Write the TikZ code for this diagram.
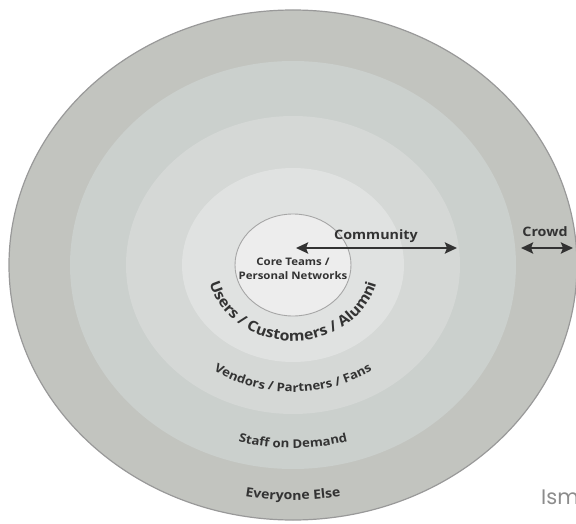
\documentclass[tikz,border=0pt]{standalone}
\usepackage{fontspec}
\setmainfont{Open Sans}
\newfontfamily\LabelFont[FakeStretch=1.1]{Open Sans}
\newfontfamily\MarkFont{Poppins}
\usepackage{tikz}
\usetikzlibrary{arrows.meta,decorations.text}
\definecolor{RingOuter}{HTML}{C2C4BF}
\definecolor{RingStaff}{HTML}{CBD0CD}
\definecolor{RingVendor}{HTML}{D5D8D6}
\definecolor{RingUser}{HTML}{E0E2E1}
\definecolor{RingCore}{HTML}{EDEDED}
\definecolor{LabelGray}{HTML}{333333}
\newcommand{\MinorColor}{LabelGray}

\begin{document}
\begin{tikzpicture}[x=1pt,y=-1pt,line cap=round,line join=round,
  lbl/.style={font=\LabelFont\bfseries\fontsize{13}{15}\selectfont,text=\MinorColor,inner sep=0pt},
  biarrow/.style={{Stealth[length=12pt,width=11pt,inset=2pt]}-{Stealth[length=12pt,width=11pt,inset=2pt]},line width=2.4pt,color=\MinorColor}]
  \useasboundingbox (0,0) rectangle (576,524);
  \coordinate (c) at (293,265);
  % rings, outside in
  \fill[RingOuter,draw=black!40,line width=1.2pt] (c) ellipse [x radius=284,y radius=255];
  \foreach \rx/\ry/\col in {223/204/RingStaff,167/149/RingVendor,111/97/RingUser}
  \fill[\col] (c) ellipse [x radius=\rx,y radius=\ry];
  \filldraw[fill=RingCore,draw=black!35,line width=0.9pt] (c) ellipse [x radius=58,y radius=51];
  % curved labels
  \path[decorate,decoration={text along path,text align=center,
    text={|\LabelFont\bfseries\fontsize{14.5}{16}\selectfont\color{LabelGray}|Users / Customers / Alumni}}]
    (c) ++(170:86 and 76) arc [start angle=170,end angle=10,x radius=86,y radius=76];
  \path[decorate,decoration={text along path,text align=center,
    text={|\LabelFont\bfseries\fontsize{12}{14}\selectfont\color{LabelGray}|Vendors / Partners / Fans}}]
    (c) ++(150:142 and 127) arc [start angle=150,end angle=30,x radius=142,y radius=127];
  \path[decorate,decoration={text along path,text align=center,
    text={|\LabelFont\bfseries\fontsize{12}{14}\selectfont\color{LabelGray}|Staff on Demand}}]
    (c) ++(130:205 and 183) arc [start angle=130,end angle=50,x radius=205,y radius=183];
  \path[decorate,decoration={text along path,text align=center,
    text={|\LabelFont\bfseries\fontsize{12.8}{14}\selectfont\color{LabelGray}|Everyone Else}}]
    (c) ++(120:263 and 235) arc [start angle=120,end angle=60,x radius=263,y radius=235];
  % centre and arrows
  \node[lbl,align=center,font=\LabelFont\bfseries\fontsize{10.4}{14}\selectfont] (core) at (293,269) {Core Teams /\\Personal Networks};
  \coordinate (comm-l) at (296,248);
  \coordinate (comm-r) at (457,248);
  \coordinate (crowd-l) at (521,248);
  \coordinate (crowd-r) at (573,248);
  \draw[biarrow] (comm-l) -- (comm-r);
  \draw[biarrow] (crowd-l) -- (crowd-r);
  \node[lbl] (community) at (376,236) {Community};
  \node[lbl] (crowd) at (545,232) {Crowd};
  \node[anchor=west,inner sep=0pt,text=black!45,font=\MarkFont\fontsize{21}{24}\selectfont] (ism) at (541,497) {Ism};
\end{tikzpicture}
\end{document}
